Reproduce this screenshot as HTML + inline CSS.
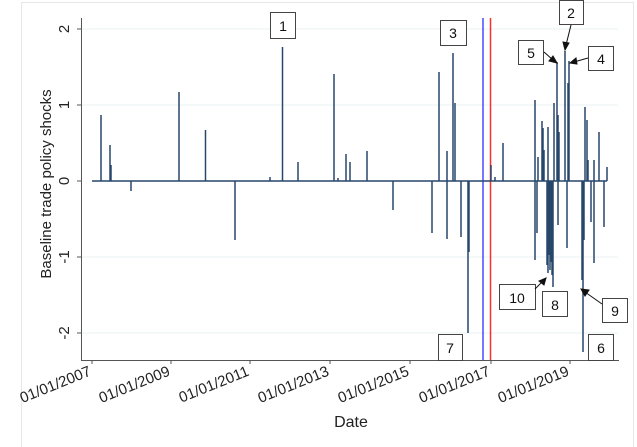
<!DOCTYPE html>
<html><head><style>
body{margin:0;background:#fff;}
svg{display:block;font-family:"Liberation Sans",sans-serif;}
</style></head><body>
<svg width="637" height="447" viewBox="0 0 637 447">
<rect x="21.5" y="2.5" width="612" height="450" fill="#fff" stroke="#e4e8ea"/>
<g stroke="#eaf0f2" stroke-width="1">
<line x1="81" y1="29" x2="618" y2="29"/><line x1="81" y1="105" x2="618" y2="105"/>
<line x1="81" y1="257" x2="618" y2="257"/><line x1="81" y1="333" x2="618" y2="333"/>
</g>
<g stroke="#555" stroke-width="1">
<line x1="81.5" y1="18" x2="81.5" y2="360"/><line x1="81" y1="360.5" x2="619" y2="360.5"/>
<line x1="77" y1="29" x2="81" y2="29"/><line x1="77" y1="105" x2="81" y2="105"/><line x1="77" y1="181" x2="81" y2="181"/><line x1="77" y1="257" x2="81" y2="257"/><line x1="77" y1="333" x2="81" y2="333"/>
<line x1="92" y1="360" x2="92" y2="364"/><line x1="171" y1="360" x2="171" y2="364"/><line x1="250" y1="360" x2="250" y2="364"/><line x1="330" y1="360" x2="330" y2="364"/><line x1="410" y1="360" x2="410" y2="364"/><line x1="491" y1="360" x2="491" y2="364"/><line x1="570" y1="360" x2="570" y2="364"/>
</g>
<g font-size="15" fill="#222" text-anchor="middle">
<text transform="translate(69,29) rotate(-90)">2</text>
<text transform="translate(69,105) rotate(-90)">1</text>
<text transform="translate(69,181) rotate(-90)">0</text>
<text transform="translate(69,257) rotate(-90)">-1</text>
<text transform="translate(69,333) rotate(-90)">-2</text>
<text transform="translate(51,184) rotate(-90)" font-size="15">Baseline trade policy shocks</text>
<text x="351" y="427" font-size="16">Date</text>
</g>
<g font-size="15" fill="#222" text-anchor="end">
<text transform="translate(92,375) rotate(-22)">01/01/2007</text>
<text transform="translate(171,375) rotate(-22)">01/01/2009</text>
<text transform="translate(250,375) rotate(-22)">01/01/2011</text>
<text transform="translate(330,375) rotate(-22)">01/01/2013</text>
<text transform="translate(410,375) rotate(-22)">01/01/2015</text>
<text transform="translate(491,375) rotate(-22)">01/01/2017</text>
<text transform="translate(570,375) rotate(-22)">01/01/2019</text>
</g>
<line x1="483" y1="18" x2="483" y2="360" stroke="#4a4aff" stroke-width="1.5"/>
<line x1="490.5" y1="18" x2="490.5" y2="360" stroke="#ff2a2a" stroke-width="1.5"/>
<g stroke="#27476b" stroke-width="1.5">
<line x1="92" y1="181" x2="607" y2="181"/>
<line x1="101" y1="181" x2="101" y2="115"/><line x1="110" y1="181" x2="110" y2="145"/><line x1="111" y1="181" x2="111" y2="165"/>
<line x1="131" y1="181" x2="131" y2="191"/><line x1="179" y1="181" x2="179" y2="92"/><line x1="205.5" y1="181" x2="205.5" y2="130"/>
<line x1="235" y1="181" x2="235" y2="240"/><line x1="270" y1="181" x2="270" y2="177"/><line x1="282.5" y1="181" x2="282.5" y2="47"/>
<line x1="298" y1="181" x2="298" y2="162"/>
<line x1="334" y1="181" x2="334" y2="74"/><line x1="338" y1="181" x2="338" y2="178"/><line x1="346" y1="181" x2="346" y2="154"/><line x1="350" y1="181" x2="350" y2="162"/><line x1="367" y1="181" x2="367" y2="151"/>
<line x1="393" y1="181" x2="393" y2="210"/><line x1="432" y1="181" x2="432" y2="233"/><line x1="439" y1="181" x2="439" y2="72"/>
<line x1="447" y1="151" x2="447" y2="239"/><line x1="453" y1="181" x2="453" y2="53"/><line x1="455" y1="181" x2="455" y2="103"/>
<line x1="461" y1="181" x2="461" y2="237"/><line x1="468" y1="181" x2="468" y2="333"/><line x1="469" y1="181" x2="469" y2="252"/>
<line x1="491" y1="181" x2="491" y2="165"/><line x1="495" y1="181" x2="495" y2="177"/><line x1="503" y1="181" x2="503" y2="143"/>
<line x1="535" y1="100" x2="535" y2="260"/><line x1="537" y1="181" x2="537" y2="233"/><line x1="538" y1="157" x2="538" y2="181"/>
<line x1="542" y1="121" x2="542" y2="181"/><line x1="543" y1="128" x2="543" y2="181"/><line x1="544" y1="150" x2="544" y2="181"/>
<line x1="547" y1="181" x2="547" y2="265"/><line x1="548" y1="127" x2="548" y2="273"/><line x1="549" y1="181" x2="549" y2="255"/><line x1="550" y1="181" x2="550" y2="270"/><line x1="551" y1="181" x2="551" y2="262"/><line x1="552" y1="181" x2="552" y2="275"/>
<line x1="553" y1="181" x2="553" y2="287"/><line x1="554" y1="103" x2="554" y2="181"/><line x1="557" y1="62" x2="557" y2="181"/>
<line x1="558" y1="115" x2="558" y2="225"/><line x1="559" y1="132" x2="559" y2="181"/><line x1="565" y1="51" x2="565" y2="181"/>
<line x1="567" y1="181" x2="567" y2="248"/><line x1="568" y1="83" x2="568" y2="181"/><line x1="569" y1="61" x2="569" y2="181"/>
<line x1="582" y1="181" x2="582" y2="280"/><line x1="583" y1="181" x2="583" y2="352"/><line x1="584" y1="181" x2="584" y2="240"/>
<line x1="585" y1="107" x2="585" y2="181"/><line x1="587" y1="120" x2="587" y2="181"/><line x1="588" y1="160" x2="588" y2="181"/>
<line x1="591" y1="181" x2="591" y2="222"/><line x1="594" y1="160" x2="594" y2="263"/><line x1="599" y1="132" x2="599" y2="181"/>
<line x1="604" y1="181" x2="604" y2="227"/><line x1="607" y1="167" x2="607" y2="181"/>
</g>
<g fill="#fff" stroke="#444" stroke-width="1">
<rect x="270.5" y="12.5" width="25" height="26"/><rect x="559.5" y="0.5" width="24" height="24"/>
<rect x="440.5" y="20.5" width="26" height="25"/><rect x="518.5" y="40.5" width="25" height="24"/>
<rect x="588.5" y="46.5" width="25" height="24"/><rect x="438.5" y="334.5" width="24" height="26"/>
<rect x="588.5" y="334.5" width="25" height="26"/><rect x="499.5" y="284.5" width="36" height="25"/>
<rect x="542.5" y="291.5" width="25" height="25"/><rect x="602.5" y="298.5" width="25" height="24"/>
</g>
<g font-size="14" fill="#111" text-anchor="middle">
<text x="283" y="31">1</text><text x="571" y="18">2</text><text x="453" y="38">3</text><text x="531" y="58">5</text>
<text x="601" y="64">4</text><text x="450" y="353">7</text><text x="601" y="353">6</text><text x="517" y="303">10</text>
<text x="555" y="310">8</text><text x="615" y="316">9</text>
</g>
<g stroke="#111" stroke-width="1" fill="#111">
<line x1="571" y1="25" x2="566" y2="45"/><polygon points="565,50 563,42 569,43"/>
<line x1="544" y1="52" x2="553" y2="60"/><polygon points="557,63 549,61 553,56"/>
<line x1="588" y1="58" x2="574" y2="62"/><polygon points="570,63 576,58 577,64"/>
<line x1="535" y1="289" x2="542" y2="282"/><polygon points="546,278 544,285 539,281"/>
<line x1="602" y1="304" x2="585" y2="292"/><polygon points="581,289 589,290 585,296"/>
</g>
</svg>
</body></html>
